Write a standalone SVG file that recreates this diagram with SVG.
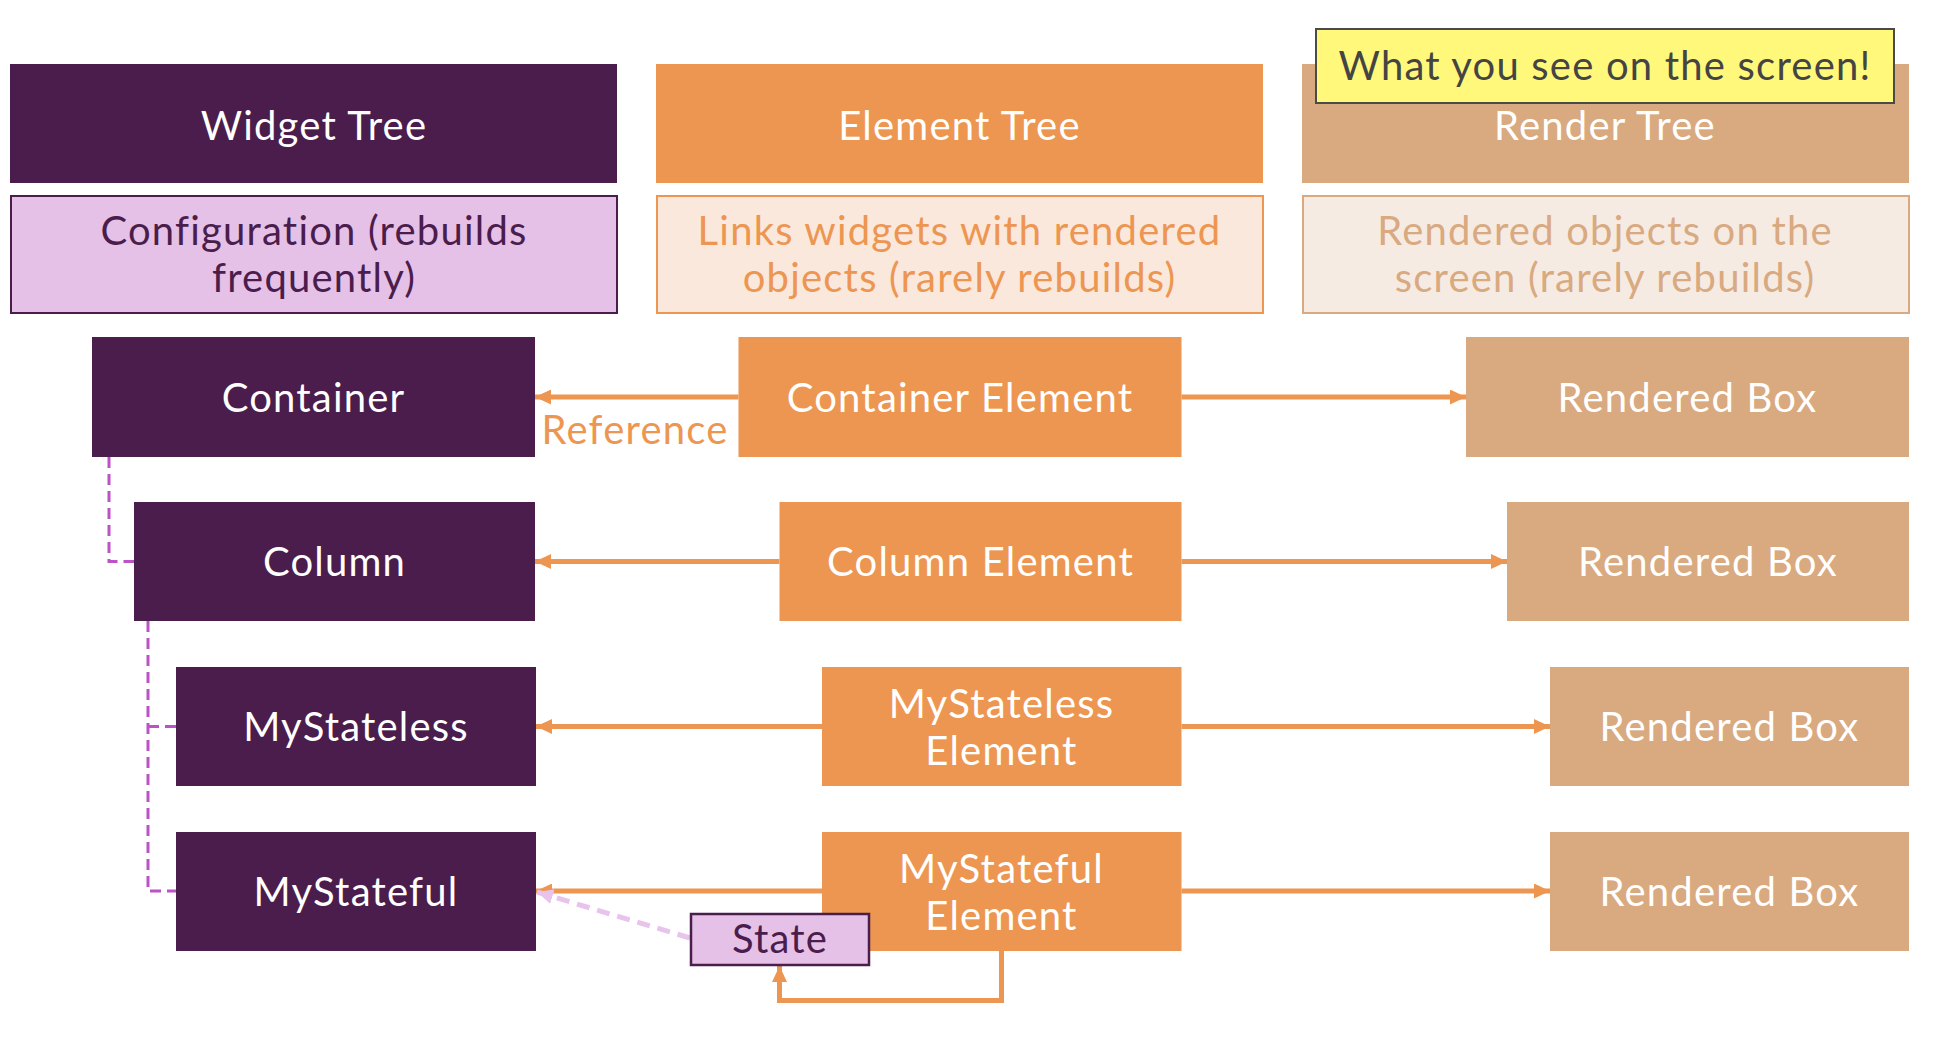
<svg xmlns="http://www.w3.org/2000/svg" width="1940" height="1042" viewBox="0 0 1940 1042">
<defs>
<style>
text{font-family:"Lato","Open Sans","Liberation Sans",sans-serif;font-size:40px;letter-spacing:1.2px;text-anchor:middle}
.w{fill:#4A1D4C}
.e{fill:#ED9651}
.r{fill:#D9A980}
.wt{fill:#ffffff}
.conn{fill:none;stroke:#ED9651;stroke-width:5}
.tree{fill:none;stroke:#BC52C6;stroke-width:3;stroke-dasharray:11 6}
</style>
<marker id="ah" markerUnits="userSpaceOnUse" markerWidth="17" markerHeight="15" refX="16" refY="7.5" orient="auto">
<path d="M0,0 L16,7.5 L0,15 Z" fill="#ED9651"/>
</marker>
<marker id="ahp" markerUnits="userSpaceOnUse" markerWidth="17" markerHeight="15" refX="16" refY="7.5" orient="auto">
<path d="M0,0 L16,7.5 L0,15 Z" fill="#E8C3EC"/>
</marker>
</defs>
<rect width="1940" height="1042" fill="#ffffff"/>

<g id="widget-tree-header"><rect class="w" x="10" y="64" width="607" height="119"/><text class="wt" x="314" y="140">Widget Tree</text></g>
<g id="widget-tree-desc"><rect x="11" y="196" width="606" height="117" fill="#E5C1E7" stroke="#4A1D4C" stroke-width="2"/><text fill="#4A1D4C" x="314" y="245">Configuration (rebuilds</text><text fill="#4A1D4C" x="314" y="292">frequently)</text></g>

<g id="element-tree-header"><rect class="e" x="656" y="64" width="607" height="119"/><text class="wt" x="959.5" y="140">Element Tree</text></g>
<g id="element-tree-desc"><rect x="657" y="196" width="606" height="117" fill="#FBE8DC" stroke="#ED9651" stroke-width="2"/><text fill="#ED9651" x="959.5" y="245">Links widgets with rendered</text><text fill="#ED9651" x="959.5" y="292">objects (rarely rebuilds)</text></g>

<g id="render-tree-header"><rect class="r" x="1302" y="64" width="607" height="119"/><text class="wt" x="1605" y="140">Render Tree</text></g>
<g id="render-tree-desc"><rect x="1303" y="196" width="606" height="117" fill="#F6EBE3" stroke="#D9A980" stroke-width="2"/><text fill="#D9A980" x="1605" y="245">Rendered objects on the</text><text fill="#D9A980" x="1605" y="292">screen (rarely rebuilds)</text></g>

<g id="screen-note"><rect x="1316" y="29" width="578" height="74" fill="#FFF87A" stroke="#4A4A4A" stroke-width="2"/><text fill="#444444" x="1605" y="80">What you see on the screen!</text></g>

<g id="connectors">
<path class="tree" d="M109,457 V561.5 H134"/>
<path class="tree" d="M148,621 V891 H176 M148,726.5 H176"/>
<line class="conn" x1="738.5" y1="397" x2="535" y2="397" marker-end="url(#ah)"/>
<line class="conn" x1="1181.5" y1="397" x2="1466" y2="397" marker-end="url(#ah)"/>
<line class="conn" x1="779.5" y1="561.5" x2="535" y2="561.5" marker-end="url(#ah)"/>
<line class="conn" x1="1181.5" y1="561.5" x2="1507" y2="561.5" marker-end="url(#ah)"/>
<line class="conn" x1="822" y1="726.5" x2="536" y2="726.5" marker-end="url(#ah)"/>
<line class="conn" x1="1181.5" y1="726.5" x2="1550" y2="726.5" marker-end="url(#ah)"/>
<line class="conn" x1="822" y1="891" x2="536" y2="891" marker-end="url(#ah)"/>
<line class="conn" x1="1181.5" y1="891" x2="1550" y2="891" marker-end="url(#ah)"/>
<path class="conn" d="M1001.5,950 V1000.5 H779.5 V966" marker-end="url(#ah)"/>
<line x1="690" y1="938" x2="537" y2="892" stroke="#E8C3EC" stroke-width="5" stroke-dasharray="13 8" marker-end="url(#ahp)"/>
<text fill="#ED9651" x="635" y="444">Reference</text>
</g>

<g id="container"><rect class="w" x="92" y="337" width="443" height="120"/><text class="wt" x="313.5" y="411.5">Container</text></g>
<g id="column"><rect class="w" x="134" y="502" width="401" height="119"/><text class="wt" x="334.5" y="576">Column</text></g>
<g id="mystateless"><rect class="w" x="176" y="667" width="360" height="119"/><text class="wt" x="356" y="741">MyStateless</text></g>
<g id="mystateful"><rect class="w" x="176" y="832" width="360" height="119"/><text class="wt" x="356" y="905.5">MyStateful</text></g>

<g id="container-element"><rect class="e" x="738.5" y="337" width="443" height="120"/><text class="wt" x="960" y="411.5">Container Element</text></g>
<g id="column-element"><rect class="e" x="779.5" y="502" width="402" height="119"/><text class="wt" x="980.5" y="576">Column Element</text></g>
<g id="mystateless-element"><rect class="e" x="822" y="667" width="359.5" height="119"/><text class="wt" x="1001.5" y="718">MyStateless</text><text class="wt" x="1001.5" y="765">Element</text></g>
<g id="mystateful-element"><rect class="e" x="822" y="832" width="359.5" height="119"/><text class="wt" x="1001.5" y="882.5">MyStateful</text><text class="wt" x="1001.5" y="929.5">Element</text></g>

<g id="state"><rect x="691" y="914" width="178" height="51" fill="#E5C1E7" stroke="#4A1D4C" stroke-width="2.5"/><text fill="#4A1D4C" x="780" y="953">State</text></g>

<g id="rendered-box-1"><rect class="r" x="1466" y="337" width="443" height="120"/><text class="wt" x="1687.5" y="411.5">Rendered Box</text></g>
<g id="rendered-box-2"><rect class="r" x="1507" y="502" width="402" height="119"/><text class="wt" x="1708" y="576">Rendered Box</text></g>
<g id="rendered-box-3"><rect class="r" x="1550" y="667" width="359" height="119"/><text class="wt" x="1729.5" y="741">Rendered Box</text></g>
<g id="rendered-box-4"><rect class="r" x="1550" y="832" width="359" height="119"/><text class="wt" x="1729.5" y="905.5">Rendered Box</text></g>
</svg>
